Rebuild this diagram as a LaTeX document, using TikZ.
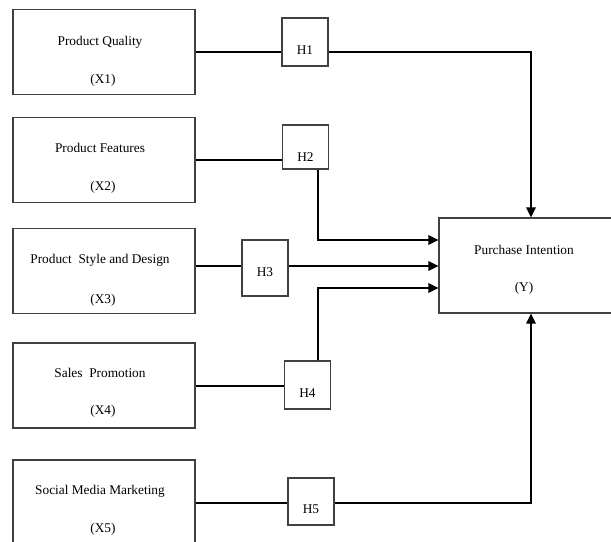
\documentclass[tikz,border=0pt]{standalone}
\usepackage{fontspec}
\setmainfont{Liberation Serif}
\usetikzlibrary{arrows.meta}
\begin{document}
\begin{tikzpicture}[x=0.75pt,y=-0.75pt,font=\normalsize,
	varbox/.style={draw=black!75,line width=0.8pt,minimum width=136.5pt,minimum height=63.75pt,inner sep=0pt},
	hypbox/.style={draw=black!75,line width=0.8pt,minimum width=34.5pt,inner sep=0pt},
	txt/.style={inner sep=0pt},
	link/.style={line width=1.2pt,black},
	arr/.style={link,-{Triangle[length=7.5pt,width=7pt]}}]
	\path[use as bounding box,clip] (0,0) rectangle (611,542);
	% rows of the connectors
	\path (0,52) coordinate (r1) (0,160) coordinate (r2) (0,266) coordinate (r3) (0,386) coordinate (r4) (0,503) coordinate (r5)
	(0,240) coordinate (a1) (0,288) coordinate (a3) (317.7,0) coordinate (v) (531,0) coordinate (c);
	% variables
	\node[varbox] (x1) at (104,52) {};
	\node[varbox] (x2) at (104,160) {};
	\node[varbox] (x3) at (104,271) {};
	\node[varbox] (x4) at (104,385.5) {};
	\node[varbox] (x5) at (104,502.5) {};
	\node[draw=black!75,line width=0.8pt,minimum width=130.5pt,minimum height=71.25pt,inner sep=0pt] (y) at (526,265.5) {};
	\foreach \n/\t/\ta/\tb/\i in {x1/Product Quality/42/80/X1,x2/Product Features/148/187/X2,x3/Product\ \ Style and Design/260/300/X3,x4/Sales\ \ Promotion/373/411/X4,x5/Social Media Marketing/491/529/X5}
		\node[txt] (\n t) at (100,\ta) {\t} node[txt] (\n i) at (103,\tb) {(\i)};
	\node[txt] (yt) at (524,250) {Purchase Intention};
	\node[txt] (yi) at (524,288) {(Y)};
	% hypotheses
	\node[hypbox,minimum height=36pt] (h1) at (305,42) {};
	\node[hypbox,minimum height=33pt] (h2) at (305.5,147) {};
	\node[hypbox,minimum height=42pt] (h3) at (265,268) {};
	\node[hypbox,minimum height=36pt] (h4) at (307.5,385) {};
	\node[hypbox,minimum height=35.25pt] (h5) at (311,501.5) {};
	\foreach \i/\dy in {1/8,2/10,3/4,4/8,5/7.5}
		\node[txt] (h\i t) at ([yshift=-\dy*0.75pt]h\i.center) {H\i};
	% connectors
	\draw[link] (x1.east |- r1) -- (h1.west |- r1);
	\draw[arr] (h1.east |- r1) -| (y.north -| c);
	\draw[link] (x2.east |- r2) -- (h2.west |- r2);
	\draw[arr] (h2.south -| v) |- (y.west |- a1);
	\draw[link] (x3.east |- r3) -- (h3.west |- r3);
	\draw[arr] (h3.east |- r3) -- (y.west |- r3);
	\draw[link] (x4.east |- r4) -- (h4.west |- r4);
	\draw[arr] (h4.north -| v) |- (y.west |- a3);
	\draw[link] (x5.east |- r5) -- (h5.west |- r5);
	\draw[arr] (h5.east |- r5) -| (y.south -| c);
\end{tikzpicture}
\end{document}
